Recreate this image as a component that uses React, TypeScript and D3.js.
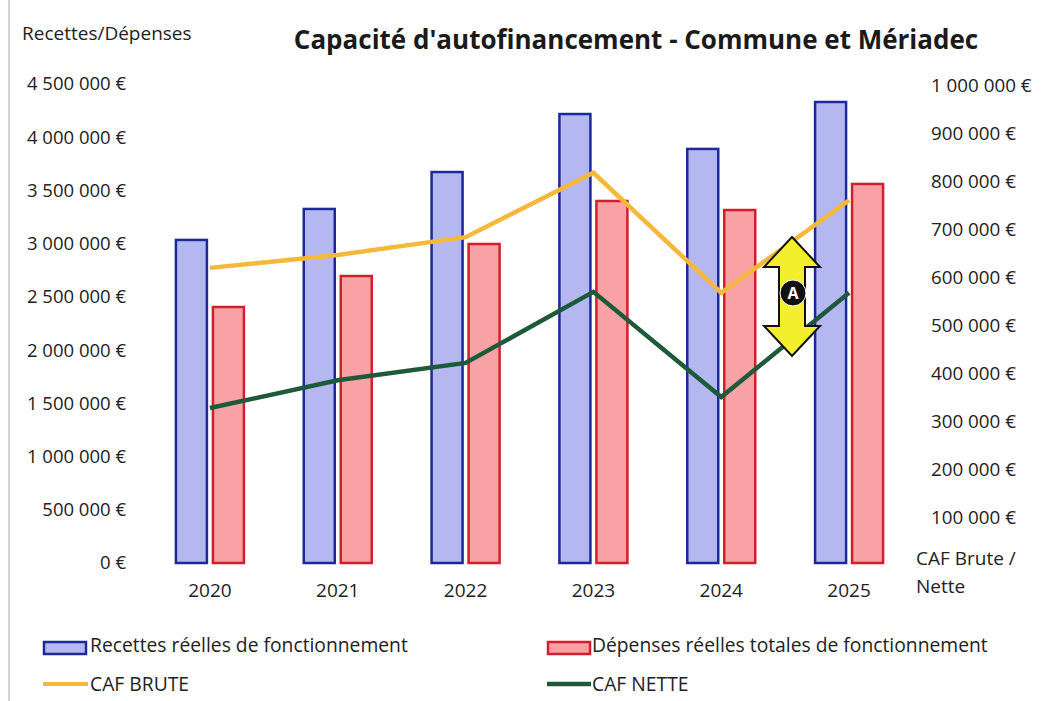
import React from "react";
import * as d3 from "d3";

const years = ["2020", "2021", "2022", "2023", "2024", "2025"];
const recettes = [3035000, 3326000, 3673000, 4218000, 3890000, 4331000];
const depenses = [2405000, 2696000, 2997000, 3401000, 3316000, 3561000];
const cafBrute = [619000, 646000, 683000, 817000, 567000, 760000];
const cafNette = [327000, 385000, 421000, 569000, 350000, 567000];
const leftTicks = [0, 500000, 1000000, 1500000, 2000000, 2500000, 3000000, 3500000, 4000000, 4500000];
const rightTicks = [100000, 200000, 300000, 400000, 500000, 600000, 700000, 800000, 900000, 1000000];

const W = 1044;
const H = 701;
const FONT = "'Open Sans', 'Noto Sans', sans-serif";
const BLUE_FILL = "#b5b8f0";
const BLUE_STROKE = "#1c2a98";
const RED_FILL = "#f8a2a6";
const RED_STROKE = "#d21f2c";
const YELLOW = "#f6b83a";
const GREEN = "#1d5a3a";

const fmt = (v: number) => {
  const s = d3.format(",")(v).replace(/,/g, " ");
  return s + " €";
};

export default function App() {
  const x = d3.scaleBand<string>().domain(years).range([146, 913]).padding(0);
  const yL = d3.scaleLinear().domain([0, 4500000]).range([563, 84]);
  const yR = d3.scaleLinear().domain([0, 1000000]).range([565, 85]);
  const cx = (y: string) => (x(y) as number) + x.bandwidth() / 2;
  const barW = 31;
  const gap = 3;

  const line = d3
    .line<number>()
    .x((_, i) => cx(years[i]))
    .y((d) => yR(d));

  // annotation arrow
  const ax = 792;
  const aTop = 237;
  const aBot = 356;
  const hh = 28;
  const sh = 13;
  const hH = 30;
  const arrow = [
    [ax, aTop],
    [ax + hh, aTop + hH],
    [ax + sh, aTop + hH],
    [ax + sh, aBot - hH],
    [ax + hh, aBot - hH],
    [ax, aBot],
    [ax - hh, aBot - hH],
    [ax - sh, aBot - hH],
    [ax - sh, aTop + hH],
    [ax - hh, aTop + hH],
  ]
    .map((p, i) => (i === 0 ? "M" : "L") + p[0] + "," + p[1])
    .join(" ") + " Z";

  return (
    <div style={{ position: "absolute", left: 0, top: 0 }}>
      <svg width={W} height={H} style={{ display: "block", background: "#fff" }} fontFamily={FONT}>
        <rect x={0} y={0} width={W} height={H} fill="#fff" />
        <line x1={9} x2={9} y1={0} y2={H} stroke="#b8b8b8" strokeWidth={1.2} />

        {/* title */}
        <text x={636} y={49} textAnchor="middle" fontSize={26} fontWeight={700} fill="#1a1a1a">
          Capacité d'autofinancement - Commune et Mériadec
        </text>
        <text x={22} y={40} fontSize={19} fill="#222">
          Recettes/Dépenses
        </text>

        {/* left axis labels */}
        {leftTicks.map((t) => (
          <text key={"l" + t} x={126} y={yL(t)} dy="0.35em" textAnchor="end" fontSize={18.5} fill="#222">
            {fmt(t)}
          </text>
        ))}

        {/* right axis labels */}
        {rightTicks.map((t) => (
          <text key={"r" + t} x={931} y={yR(t)} dy="0.35em" textAnchor="start" fontSize={18.8} fill="#222">
            {fmt(t)}
          </text>
        ))}
        <text x={916} y={565} fontSize={19} fill="#222">
          CAF Brute /
        </text>
        <text x={916} y={593} fontSize={19} fill="#222">
          Nette
        </text>

        {/* bars */}
        {years.map((yr, i) => (
          <g key={"b" + yr}>
            <rect
              x={cx(yr) - gap - barW}
              y={yL(recettes[i])}
              width={barW}
              height={yL(0) - yL(recettes[i])}
              fill={BLUE_FILL}
              stroke={BLUE_STROKE}
              strokeWidth={2.5}
            />
            <rect
              x={cx(yr) + gap}
              y={yL(depenses[i])}
              width={barW}
              height={yL(0) - yL(depenses[i])}
              fill={RED_FILL}
              stroke={RED_STROKE}
              strokeWidth={2.5}
            />
          </g>
        ))}

        {/* x labels */}
        {years.map((yr) => (
          <text key={"x" + yr} x={cx(yr)} y={597} textAnchor="middle" fontSize={19} fill="#222">
            {yr}
          </text>
        ))}

        {/* lines */}
        <path d={line(cafBrute) || ""} fill="none" stroke={YELLOW} strokeWidth={4.5} strokeLinejoin="miter" />
        <path d={line(cafNette) || ""} fill="none" stroke={GREEN} strokeWidth={4.5} strokeLinejoin="miter" />

        {/* annotation */}
        <path d={arrow} fill="#f4ef2c" stroke="#111" strokeWidth={2} strokeLinejoin="miter" />
        <circle cx={ax + 1} cy={293} r={13} fill="#111" stroke="#fff" strokeWidth={1} />
        <text x={ax + 1} y={293} dy="0.36em" textAnchor="middle" fontSize={16} fontWeight={700} fill="#fff">
          A
        </text>

        {/* legend */}
        <rect x={44} y={642} width={42} height={12} fill={BLUE_FILL} stroke={BLUE_STROKE} strokeWidth={2.5} />
        <text x={90} y={652} fontSize={19.3} fill="#222">
          Recettes réelles de fonctionnement
        </text>
        <rect x={548} y={642} width={42} height={12} fill={RED_FILL} stroke={RED_STROKE} strokeWidth={2.5} />
        <text x={592} y={652} fontSize={19.3} fill="#222">
          Dépenses réelles totales de fonctionnement
        </text>
        <line x1={43} x2={88} y1={684} y2={684} stroke={YELLOW} strokeWidth={4} />
        <text x={90} y={691} fontSize={19.3} fill="#222">
          CAF BRUTE
        </text>
        <line x1={547} x2={591} y1={684} y2={684} stroke={GREEN} strokeWidth={4.5} />
        <text x={592} y={691} fontSize={19.3} fill="#222">
          CAF NETTE
        </text>
      </svg>
    </div>
  );
}
